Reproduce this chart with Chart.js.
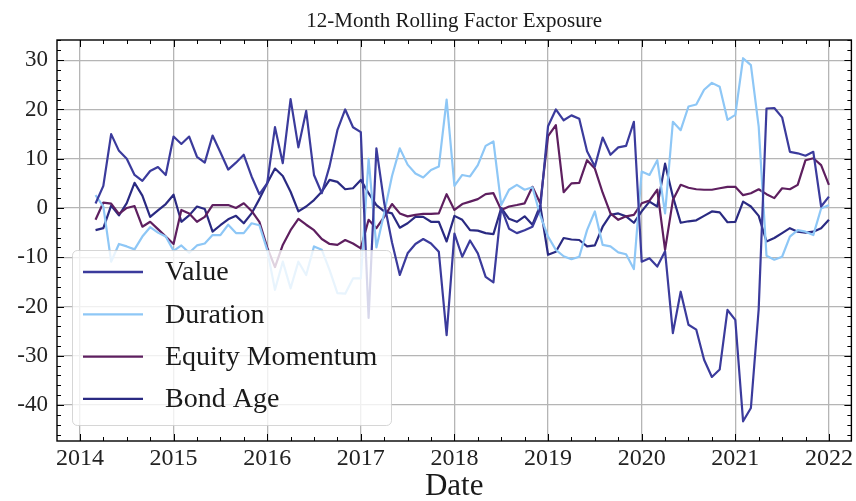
<!DOCTYPE html>
<html>
<head>
<meta charset="utf-8">
<script src="https://cdn.jsdelivr.net/npm/chart.js@4/dist/chart.umd.min.js"></script>
<style>
  html, body { margin: 0; padding: 0; background: #ffffff; }
  #wrap { width: 856px; height: 501px; }
</style>
</head>
<body>
<div id="wrap"><canvas id="exposureChart" width="856" height="501"></canvas></div>
<script>
'use strict';

/* ── data: month-end observations, Feb 2014 → Dec 2021 ── */
const FIRST_MONTH = [2014, 2];
const N_MONTHS    = 95;

const VALUE = [
  0.9, 4.5, 15.0, 11.6, 10.0, 6.7, 5.5, 7.5, 8.3, 6.7, 14.5,
  13.0, 14.5, 10.4, 9.2, 14.7, 11.3, 7.8, 9.2, 10.8, 6.4, 2.8, 5.0,
  16.4, 9.1, 22.1, 12.3, 19.7, 6.7, 3.0, 8.5, 15.8, 20.0, 16.4, 15.4,
  -22.3, 12.1, 1.0, -7.0, -13.6, -9.2, -7.3, -6.3, -7.2, -8.9, -25.8, -5.2,
  -9.9, -6.6, -9.2, -14.0, -15.1, 0.0, -4.2, -5.1, -4.5, -3.8, -0.1, 16.6,
  20.0, 17.8, 18.8, 18.1, 11.5, 8.4, 14.3, 10.8, 12.3, 12.6, 17.5, -10.9,
  -10.2, -11.9, -8.8, -25.4, -17.0, -23.7, -24.7, -30.8, -34.3, -32.8, -20.7, -22.7,
  -43.3, -40.6, -20.5, 20.2, 20.3, 18.4, 11.4, 11.1, 10.6, 11.4, 0.3, 2.3,
];

const DURATION = [
  2.6, 0.3, -10.9, -7.3, -7.8, -8.4, -5.8, -3.9, -5.0, -5.8, -8.7,
  -7.6, -9.1, -7.6, -7.2, -5.5, -5.5, -3.4, -5.1, -5.1, -3.1, -3.5, -8.5,
  -16.6, -10.9, -16.3, -10.9, -13.6, -7.8, -8.5, -12.6, -17.3, -17.4, -14.3, -14.3,
  10.0, -8.0, -1.0, 6.5, 12.1, 8.8, 7.0, 6.2, 7.7, 8.4, 22.0, 4.5,
  6.7, 6.4, 8.7, 12.6, 13.5, 0.6, 3.7, 4.7, 3.7, 4.2, -1.5, -5.8,
  -8.5, -9.8, -10.4, -9.9, -4.5, -0.7, -7.5, -7.8, -9.0, -9.4, -12.4, 7.4,
  6.7, 9.7, -1.1, 17.5, 15.8, 20.6, 21.0, 24.0, 25.4, 24.6, 17.9, 18.9,
  30.4, 29.0, 16.5, -9.7, -10.5, -9.9, -5.8, -4.5, -4.8, -5.5, -0.1, 0.6,
];

const EQUITY_MOMENTUM = [
  -2.4, 1.1, 0.9, -1.2, 0.0, 0.4, -3.8, -2.8, -4.3, -5.8, -7.3,
  -0.4, -1.1, -2.8, -1.8, 0.6, 0.6, 0.6, 0.0, 0.95, -0.6, -2.8, -8.0,
  -12.0, -7.5, -4.5, -2.2, -3.4, -4.5, -6.3, -7.3, -7.5, -6.5, -7.2, -8.2,
  -2.4, -4.1, -1.8, 0.8, -1.1, -1.7, -1.4, -1.2, -1.2, -1.1, 2.8, -0.4,
  0.8, 1.3, 1.8, 2.8, 3.0, -0.4, 0.3, 0.6, 0.95, 4.3, 0.95, 14.6,
  16.8, 3.2, 5.0, 5.1, 9.7, 8.0, 3.1, -1.1, -2.4, -1.7, -1.4, 0.95,
  1.5, 3.7, -8.5, 1.6, 4.7, 4.1, 3.8, 3.7, 3.7, 4.0, 4.3, 4.3,
  2.6, 3.0, 3.8, 2.8, 2.0, 4.0, 3.8, 4.7, 9.7, 10.1, 8.7, 4.7,
];

const BOND_AGE = [
  -4.5, -4.1, 0.5, -1.5, 1.0, 5.1, 2.5, -1.8, -0.5, 0.8, 2.7,
  -2.8, -1.5, 0.3, -0.2, -4.8, -3.5, -2.3, -1.6, -3.1, -1.1, 1.8, 5.0,
  8.0, 6.5, 3.3, -0.7, 0.3, 1.6, 3.3, 5.7, 5.3, 3.8, 4.0, 5.7,
  3.0, 0.6, -0.7, -1.1, -4.0, -3.1, -1.8, -1.8, -2.8, -2.8, -6.8, -1.6,
  -2.4, -4.5, -4.6, -5.1, -5.3, 0.0, -2.2, -2.8, -1.7, -3.4, 0.5, -9.5,
  -8.9, -6.1, -6.4, -6.5, -7.8, -7.6, -3.8, -1.4, -1.1, -1.7, -3.0, -0.7,
  1.3, 0.3, 9.0, 2.3, -3.0, -2.7, -2.5, -1.6, -0.7, -0.9, -2.9, -2.8,
  1.3, 0.3, -1.6, -6.8, -6.1, -5.1, -4.1, -4.8, -5.0, -4.8, -4.1, -2.4,
];

const SERIES_NAMES = ['Value', 'Duration', 'Equity Momentum', 'Bond Age'];
const SERIES_DATA  = [VALUE, DURATION, EQUITY_MOMENTUM, BOND_AGE];
const COLORS       = ['#3b3b9c', '#8ec7f6', '#5e1f5f', '#2a2a82'];

const YEAR_TICKS = [2014, 2015, 2016, 2017, 2018, 2019, 2020, 2021, 2022];
const Y_TICKS    = [-40, -30, -20, -10, 0, 10, 20, 30];

const TITLE  = '12-Month Rolling Factor Exposure';
const XLABEL = 'Date';

/* ── month labels 'YYYY-MM' and their position in decimal years ── */
const MONTHS = [];
for (let i = 0; i < N_MONTHS; i++) {
  const m = FIRST_MONTH[1] - 1 + i;
  const y = FIRST_MONTH[0] + Math.floor(m / 12);
  MONTHS.push(y + '-' + String((m % 12) + 1).padStart(2, '0'));
}
// month-end position: Feb 2014 -> 2014 + 2/12
const monthToX = (s) => {
  const [y, m] = s.split('-').map(Number);
  return y + m / 12;
};

const FONT = "'Liberation Serif', 'DejaVu Serif', serif";

/* ═══ frame, inward ticks (major + minor), title, legend ═══ */
const matplotlibLook = {
  id: 'matplotlibLook',

  afterDatasetsDraw(chart) {
    const ctx = chart.ctx;
    const bx = 72, by = 250, bw = 319, bh = 175, r = 5;
    ctx.save();
    ctx.beginPath();
    ctx.roundRect(bx + 0.5, by + 0.5, bw, bh, r);
    ctx.fillStyle = 'rgba(255,255,255,0.8)';
    ctx.fill();
    ctx.strokeStyle = 'rgba(204,204,204,0.8)';
    ctx.lineWidth = 1;
    ctx.stroke();

    ctx.font = '28px ' + FONT;
    ctx.textBaseline = 'middle';
    ctx.textAlign = 'left';
    SERIES_NAMES.forEach((name, i) => {
      const yy = 272 + i * 42.3;
      ctx.beginPath();
      ctx.moveTo(83, yy);
      ctx.lineTo(143, yy);
      ctx.strokeStyle = COLORS[i];
      ctx.lineWidth = 2.3;
      ctx.stroke();
      ctx.fillStyle = '#1a1a1a';
      ctx.fillText(name, 165, yy + 1);
    });
    ctx.restore();
  },

  afterDraw(chart) {
    const ctx = chart.ctx;
    const { left, right, top, bottom } = chart.chartArea;
    const xs = chart.scales.x, ys = chart.scales.y;
    ctx.save();
    ctx.strokeStyle = '#000000';

    // x ticks: years major, quarters minor, on bottom and top
    ctx.lineWidth = 1;
    for (let q = Math.ceil(xs.min * 4); q <= Math.floor(xs.max * 4); q++) {
      const major = q % 4 === 0;
      const len = major ? 7 : 4;
      const px = Math.round(xs.getPixelForValue(q / 4)) + 0.5;
      ctx.beginPath();
      ctx.moveTo(px, bottom); ctx.lineTo(px, bottom - len);
      ctx.moveTo(px, top);    ctx.lineTo(px, top + len);
      ctx.stroke();
    }
    // y ticks: every 10 major, every 2 minor, on left and right
    for (let v = Math.ceil(ys.min / 2) * 2; v <= ys.max; v += 2) {
      const major = v % 10 === 0;
      const len = major ? 7 : 4;
      const py = Math.round(ys.getPixelForValue(v)) + 0.5;
      ctx.beginPath();
      ctx.moveTo(left, py);  ctx.lineTo(left + len, py);
      ctx.moveTo(right, py); ctx.lineTo(right - len, py);
      ctx.stroke();
    }

    // axes frame
    ctx.lineWidth = 1.4;
    ctx.strokeRect(left, top, right - left, bottom - top);

    // title and x-axis label
    ctx.fillStyle = '#1a1a1a';
    ctx.textAlign = 'center';
    ctx.textBaseline = 'middle';
    ctx.font = '21px ' + FONT;
    ctx.fillText(TITLE, (left + right) / 2, 21);
    ctx.font = '31px ' + FONT;
    ctx.fillText(XLABEL, (left + right) / 2, 487);
    ctx.restore();
  },
};

new Chart(document.getElementById('exposureChart'), {
  type: 'line',
  data: {
    datasets: SERIES_NAMES.map((name, i) => ({
      label      : name,
      data       : MONTHS.map((m, k) => ({ x: monthToX(m), y: SERIES_DATA[i][k] })),
      borderColor: COLORS[i],
      borderWidth: 2.2,
      pointRadius: 0,
      tension    : 0,
      fill       : false,
      borderJoinStyle: 'round',
    })),
  },
  options: {
    responsive: false,
    animation : false,
    devicePixelRatio: 1,
    layout: { padding: { top: 40, right: 3, left: 0, bottom: 0 } },
    plugins: {
      legend : { display: false },
      title  : { display: false },
      tooltip: { enabled: false },
    },
    scales: {
      x: {
        type: 'linear',
        min : 2013.755,
        max : 2022.24,
        afterFit: (s) => { s.height = 60; },
        afterBuildTicks: (s) => { s.ticks = YEAR_TICKS.map((v) => ({ value: v })); },
        grid  : { color: '#b5b5b5', lineWidth: 1.3, drawTicks: false },
        border: { display: false },
        ticks : {
          color: '#222222',
          font : { family: FONT, size: 24 },
          padding: 3,
          maxRotation: 0,
          callback: (v) => String(v),
        },
      },
      y: {
        type: 'linear',
        min : -47.3,
        max : 34.1,
        afterFit: (s) => { s.width = 57; },
        afterBuildTicks: (s) => { s.ticks = Y_TICKS.map((v) => ({ value: v })); },
        grid  : { color: '#b5b5b5', lineWidth: 1.3, drawTicks: false },
        border: { display: false },
        ticks : {
          color: '#222222',
          font : { family: FONT, size: 23 },
          padding: 9,
          callback: (v) => String(v),
        },
      },
    },
  },
  plugins: [matplotlibLook],
});
</script>
</body>
</html>
